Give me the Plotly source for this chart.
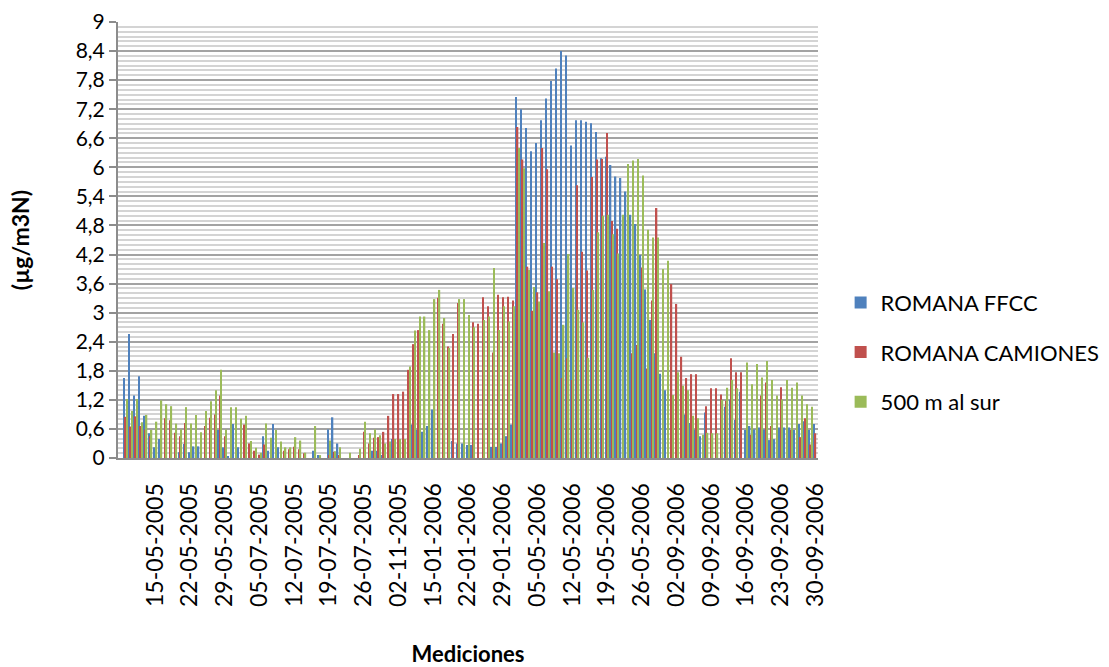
import plotly.graph_objects as go

# Measurement slots 1..140 (slot 0 is an empty category on the axis)
tick_positions = [7, 14, 21, 28, 35, 42, 49, 56, 63, 70, 77, 84, 91, 98, 105, 112, 119, 126, 133, 140]
tick_labels = ["15-05-2005", "22-05-2005", "29-05-2005", "05-07-2005", "12-07-2005",
               "19-07-2005", "26-07-2005", "02-11-2005", "15-01-2006", "22-01-2006",
               "29-01-2006", "05-05-2006", "12-05-2006", "19-05-2006", "26-05-2006",
               "02-09-2006", "09-09-2006", "16-09-2006", "23-09-2006", "30-09-2006"]

romana_ffcc = [
    1.65, 2.56, 1.29, 1.69, 0.87, 0.51, 0.22, 0.39, 0.00, 0.00,
    0.00, 0.12, 0.29, 0.12, 0.24, 0.24, 0.00, 0.00, 0.00, 0.58,
    0.22, 0.04, 0.70, 0.22, 0.00, 0.00, 0.00, 0.00, 0.45, 0.15,
    0.70, 0.22, 0.00, 0.00, 0.00, 0.00, 0.00, 0.00, 0.15, 0.06,
    0.00, 0.59, 0.84, 0.30, 0.00, 0.00, 0.00, 0.00, 0.00, 0.00,
    0.15, 0.15, 0.06, 0.00, 0.39, 0.00, 0.00, 0.00, 0.69, 0.58,
    0.54, 0.66, 1.00, 0.00, 0.00, 0.00, 0.35, 0.30, 0.30, 0.27,
    0.27, 0.00, 0.00, 0.00, 0.23, 0.23, 0.30, 0.45, 0.69, 7.45,
    7.20, 6.81, 6.33, 6.50, 6.97, 7.42, 7.78, 8.04, 8.40, 8.31,
    6.45, 6.97, 6.97, 6.94, 6.91, 6.73, 6.19, 6.22, 6.05, 5.81,
    5.78, 5.50, 5.02, 4.83, 4.19, 3.48, 2.85, 2.16, 1.74, 1.40,
    0.00, 0.00, 0.00, 0.90, 0.72, 0.59, 0.45, 0.94, 0.00, 0.00,
    0.00, 1.06, 1.20, 0.79, 1.37, 0.58, 0.66, 0.59, 0.63, 0.59,
    0.37, 0.39, 0.63, 0.63, 0.63, 0.58, 0.70, 0.76, 0.58, 0.70,
]

romana_camiones = [
    0.85, 0.65, 0.86, 0.66, 0.59, 0.45, 0.00, 0.00, 0.82, 0.78,
    0.52, 0.45, 0.72, 0.00, 0.00, 0.00, 0.66, 0.83, 0.90, 1.29,
    0.45, 0.00, 0.00, 0.00, 0.69, 0.30, 0.15, 0.07, 0.28, 0.00,
    0.00, 0.00, 0.15, 0.18, 0.23, 0.18, 0.10, 0.00, 0.00, 0.00,
    0.00, 0.06, 0.13, 0.06, 0.00, 0.00, 0.00, 0.06, 0.54, 0.30,
    0.42, 0.43, 0.54, 0.87, 1.32, 1.32, 1.37, 1.82, 2.35, 2.64,
    0.00, 0.00, 0.00, 3.31, 2.77, 2.30, 2.56, 3.20, 0.00, 0.00,
    2.80, 2.77, 3.32, 3.13, 2.18, 3.37, 3.32, 3.33, 3.25, 6.83,
    6.16, 3.95, 3.04, 3.42, 6.40, 5.96, 3.95, 3.69, 1.65, 2.06,
    1.61, 5.63, 4.26, 3.87, 5.80, 6.16, 6.17, 6.71, 4.89, 4.73,
    0.00, 0.00, 2.16, 2.33, 3.93, 1.85, 3.25, 5.16, 0.00, 0.00,
    3.59, 3.18, 2.09, 1.65, 1.73, 1.73, 0.00, 1.07, 1.44, 1.44,
    1.31, 1.18, 2.06, 1.77, 1.77, 0.00, 0.48, 0.00, 1.29, 1.56,
    0.66, 0.00, 1.46, 0.00, 0.58, 0.00, 0.43, 0.82, 0.28, 0.51,
]

al_sur_500m = [
    1.22, 0.97, 1.22, 0.74, 0.89, 0.58, 0.75, 1.19, 1.11, 1.07,
    0.71, 0.59, 1.05, 0.71, 0.89, 0.53, 0.97, 1.17, 1.40, 1.82,
    0.59, 1.05, 1.05, 0.81, 0.87, 0.35, 0.21, 0.11, 0.71, 0.42,
    0.58, 0.34, 0.22, 0.22, 0.43, 0.36, 0.11, 0.00, 0.66, 0.06,
    0.00, 0.36, 0.14, 0.22, 0.00, 0.11, 0.00, 0.19, 0.75, 0.51,
    0.59, 0.47, 0.30, 0.34, 0.39, 0.39, 0.39, 1.89, 2.63, 2.92,
    2.92, 2.64, 3.28, 3.47, 2.89, 2.27, 0.00, 3.28, 3.28, 2.95,
    2.70, 0.00, 2.85, 2.92, 3.92, 2.64, 3.13, 2.82, 3.13, 6.40,
    5.98, 3.88, 3.53, 3.23, 4.44, 3.44, 2.18, 2.16, 2.75, 4.21,
    3.51, 3.06, 2.80, 2.07, 3.47, 4.66, 5.00, 5.02, 4.62, 4.22,
    5.02, 6.07, 6.14, 6.17, 5.83, 4.71, 4.55, 4.55, 3.90, 4.07,
    1.30, 1.77, 1.49, 1.40, 0.87, 0.82, 0.48, 0.52, 0.51, 0.51,
    1.20, 1.45, 1.61, 1.44, 0.00, 1.97, 1.52, 1.94, 1.66, 2.00,
    1.61, 1.29, 1.21, 1.61, 1.45, 1.56, 1.29, 1.11, 1.06, 0.00,
]

series_names = ["ROMANA FFCC", "ROMANA CAMIONES", "500 m al sur"]
series_colors = ["#4F81BD", "#C0504D", "#9BBB59"]
series_values = [romana_ffcc, romana_camiones, al_sur_500m]

y_tick_values = [0, 0.6, 1.2, 1.8, 2.4, 3, 3.6, 4.2, 4.8, 5.4, 6, 6.6, 7.2, 7.8, 8.4, 9]
y_tick_labels = ["0", "0,6", "1,2", "1,8", "2,4", "3", "3,6", "4,2", "4,8", "5,4",
                 "6", "6,6", "7,2", "7,8", "8,4", "9"]

slots = list(range(1, len(romana_ffcc) + 1))

font_family = "Lato, 'Liberation Sans', sans-serif"

fig = go.Figure()
for name, color, values in zip(series_names, series_colors, series_values):
    fig.add_trace(go.Bar(
        x=slots, y=values, name=name,
        marker=dict(color=color, line=dict(width=0)),
        legendgroup=name,
    ))

fig.update_layout(
    width=1109, height=667,
    margin=dict(l=118, r=291, t=22, b=209, autoexpand=False),
    paper_bgcolor="white", plot_bgcolor="white",
    barmode="group", bargap=0.2, bargroupgap=0,
    font=dict(family=font_family, size=20, color="#000000"),
    showlegend=True,
    legend=dict(
        xref="container", yref="container",
        x=0.758, y=0.472, xanchor="left", yanchor="middle",
        font=dict(size=22, color="#000000"),
        tracegroupgap=18, itemwidth=30,
        bgcolor="rgba(0,0,0,0)",
    ),
)

fig.update_xaxes(
    range=[-0.5, 140.5],
    tickmode="array", tickvals=tick_positions, ticktext=tick_labels,
    tickangle=-90, tickfont=dict(size=23),
    ticks="outside", ticklen=14, tickcolor="rgba(0,0,0,0)",
    showgrid=False, zeroline=False,
    showline=True, linecolor="#8c8c8c", linewidth=2,
    title=dict(text="<b>Mediciones</b>", font=dict(size=22), standoff=42),
)

fig.update_yaxes(
    range=[0, 9],
    tickmode="array", tickvals=y_tick_values, ticktext=y_tick_labels,
    tickfont=dict(size=21),
    ticks="outside", ticklen=7, tickcolor="#8c8c8c", tickwidth=1.5,
    showgrid=True, gridcolor="#a3a3a3", gridwidth=2,
    minor=dict(dtick=0.1, showgrid=True, gridcolor="#d4d4d4", gridwidth=1.5, ticks=""),
    zeroline=False,
    showline=True, linecolor="#8c8c8c", linewidth=2,
    title=dict(text="<b>(µg/m3N)</b>", font=dict(size=23), standoff=40),
)

fig.write_html("out.html")
